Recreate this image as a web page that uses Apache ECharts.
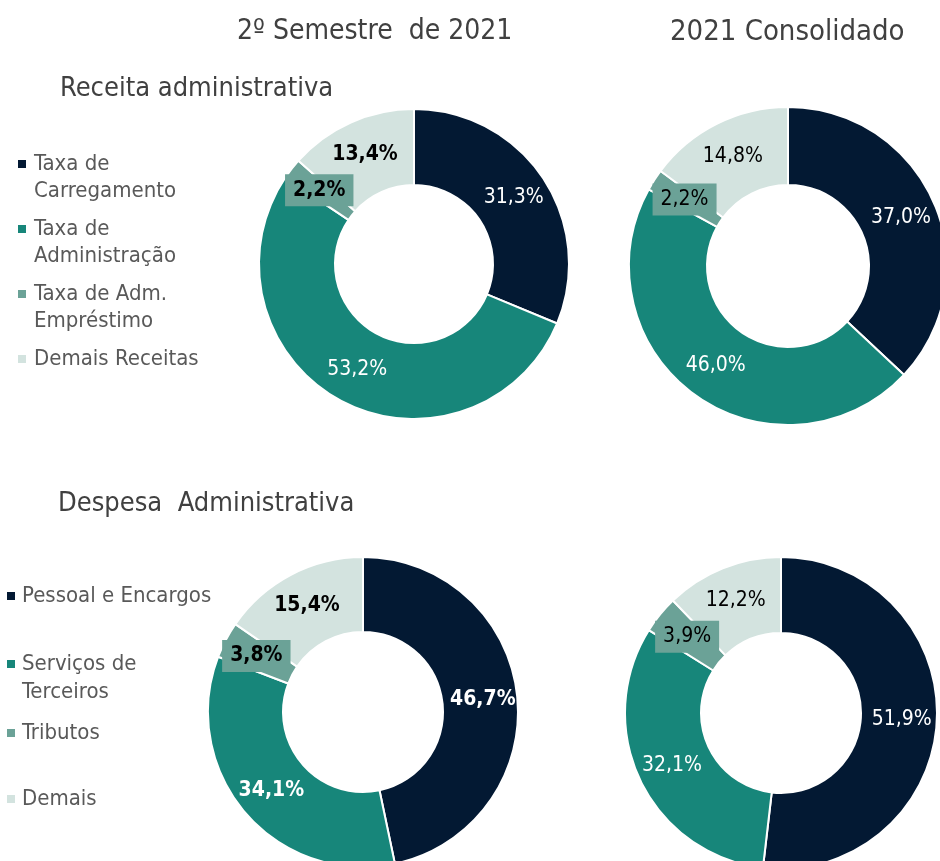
<!DOCTYPE html>
<html>
<head>
<meta charset="utf-8">
<script src="https://cdn.jsdelivr.net/npm/echarts@6/dist/echarts.min.js"></script>
<style>html,body{margin:0;padding:0;background:#fff}#c{width:940px;height:861px}</style>
</head>
<body>
<div id="c"></div>
<script>
// ---- data ----
const receitaCategories = ['Taxa de Carregamento', 'Taxa de Administração', 'Taxa de Adm. Empréstimo', 'Demais Receitas'];
const receitaLegendText = ['Taxa de\nCarregamento', 'Taxa de\nAdministração', 'Taxa de Adm.\nEmpréstimo', 'Demais Receitas'];
const receitaSemestre = [31.3, 53.2, 2.2, 13.4];
const receitaConsolidado = [37.0, 46.0, 2.2, 14.8];

const despesaCategories = ['Pessoal e Encargos', 'Serviços de Terceiros', 'Tributos', 'Demais'];
const despesaLegendText = ['Pessoal e Encargos', 'Serviços de\nTerceiros', 'Tributos', 'Demais'];
const despesaSemestre = [46.7, 34.1, 3.8, 15.4];
const despesaConsolidado = [51.9, 32.1, 3.9, 12.2];

const columnTitles = ['2º Semestre  de 2021', '2021 Consolidado'];
const sectionTitles = ['Receita administrativa', 'Despesa  Administrativa'];

// ---- style ----
const FONT = '"DejaVu Sans Condensed", "Open Sans", sans-serif';
const colors = ['#031933', '#17867A', '#6BA297', '#D3E3DF'];
const labelColors = ['#ffffff', '#ffffff', '#000000', '#000000'];

function fmt(v) { return v.toFixed(1).replace('.', ',') + '%'; }

function makeData(cats, vals, boldFlags) {
  return cats.map((name, i) => ({
    name: name,
    value: vals[i],
    itemStyle: { color: colors[i] },
    label: Object.assign({
      color: labelColors[i],
      fontWeight: boldFlags[i] ? 'bold' : 'normal'
    }, i === 2 ? { backgroundColor: colors[2], padding: [6, 8, 5, 8] } : {})
  }));
}

function pie(center, radius, data) {
  return {
    type: 'pie',
    center: center,
    radius: radius,
    startAngle: 90,
    clockwise: true,
    avoidLabelOverlap: false,
    silent: true,
    itemStyle: { borderColor: '#ffffff', borderWidth: 2 },
    label: {
      show: true,
      position: 'inside',
      fontFamily: FONT,
      fontSize: 21,
      formatter: p => fmt(p.value)
    },
    labelLine: { show: false },
    emphasis: { disabled: true },
    data: data
  };
}

// Multi-line legend entries get a blank leading line so that the first
// real line sits level with the icon (ECharts centres text on the icon).
function legendItem(name, text, iconLeft, iconCenterY, lh, textPadLeft) {
  const lines = text.split('\n');
  const shown = lines.length > 1 ? ' \n' + text : text;
  const n = lines.length > 1 ? lines.length + 1 : 1;
  const boxH = n * lh;
  return {
    data: [name],
    orient: 'vertical',
    left: iconLeft,
    top: iconCenterY - boxH / 2,
    padding: 0,
    icon: 'rect',
    itemWidth: 10,
    itemHeight: 10,
    itemGap: 0,
    selectedMode: false,
    formatter: () => shown,
    textStyle: {
      fontFamily: FONT,
      fontSize: 22,
      color: '#595959',
      lineHeight: lh,
      padding: [0, 0, 0, textPadLeft]
    }
  };
}

const legends = [];
const recY = [164, 229, 294, 359];
receitaCategories.forEach((n, i) => {
  legends.push(legendItem(n, receitaLegendText[i], 16, recY[i], 27, 2));
});
const desY = [596, 664, 733, 799];
despesaCategories.forEach((n, i) => {
  legends.push(legendItem(n, despesaLegendText[i], 5, desY[i], 28, 1));
});

const titleStyle = { fontFamily: FONT, fontWeight: 'normal', color: '#404040' };

const option = {
  animation: false,
  title: [
    { text: columnTitles[0], left: 237, top: 18, padding: 0, textStyle: Object.assign({ fontSize: 28 }, titleStyle) },
    { text: columnTitles[1], left: 670, top: 18, padding: 0, textStyle: Object.assign({ fontSize: 29 }, titleStyle) },
    { text: sectionTitles[0], left: 60, top: 75, padding: 0, textStyle: Object.assign({ fontSize: 27 }, titleStyle) },
    { text: sectionTitles[1], left: 58, top: 490, padding: 0, textStyle: Object.assign({ fontSize: 27 }, titleStyle) }
  ],
  legend: legends,
  series: [
    pie([414, 264], [79, 155], makeData(receitaCategories, receitaSemestre, [false, false, true, true])),
    pie([788, 266], [81, 159], makeData(receitaCategories, receitaConsolidado, [false, false, false, false])),
    pie([363, 712], [80, 155], makeData(despesaCategories, despesaSemestre, [true, true, true, true])),
    pie([781, 713], [80, 156], makeData(despesaCategories, despesaConsolidado, [false, false, false, false]))
  ]
};

const chart = echarts.init(document.getElementById('c'), null, { renderer: 'canvas' });
chart.setOption(option);
</script>
</body>
</html>
